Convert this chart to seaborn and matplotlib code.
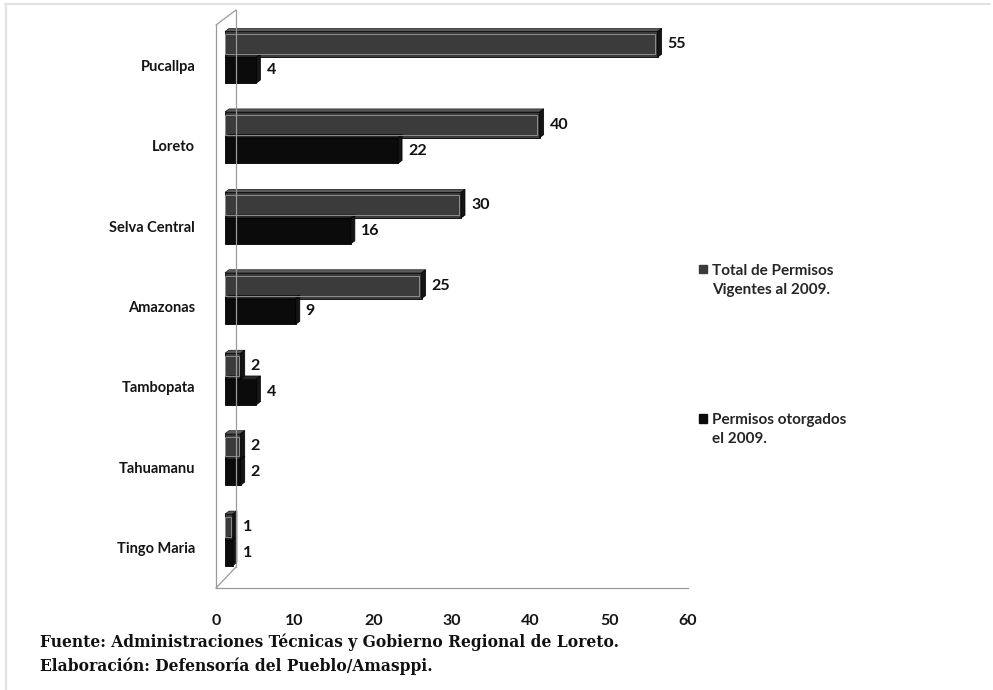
import numpy as np
import pandas as pd
import seaborn as sns
import matplotlib
matplotlib.use("Agg")
import matplotlib.pyplot as plt
from matplotlib.transforms import ScaledTranslation
from matplotlib.patches import Polygon, Rectangle, Patch
from matplotlib.lines import Line2D
from matplotlib.legend_handler import HandlerPatch

# ---------------- data ----------------
categories = ["Pucallpa", "Loreto", "Selva Central", "Amazonas",
              "Tambopata", "Tahuamanu", "Tingo Maria"]
total_vigentes = [55, 40, 30, 25, 2, 2, 1]
otorgados_2009 = [4, 22, 16, 9, 4, 2, 1]
series_names = ["Total de Permisos\nVigentes al 2009.", "Permisos otorgados\nel 2009."]
x_ticks = [0, 10, 20, 30, 40, 50, 60]
source_lines = ["Fuente: Administraciones Técnicas y Gobierno Regional de Loreto.",
                "Elaboración: Defensoría del Pueblo/Amasppi."]

df = pd.DataFrame({
    "Zona": categories * 2,
    "Valor": total_vigentes + otorgados_2009,
    "Serie": [series_names[0]] * len(categories) + [series_names[1]] * len(categories),
})

colors = ["#3b3b3b", "#0b0b0b"]

sns.set_theme(style="white")
fam = ["Lato", "DejaVu Sans"]
plt.rcParams["font.family"] = fam

W, H, DPI = 9.93, 6.90, 100
fig = plt.figure(figsize=(W, H), dpi=DPI)
fig.patch.set_facecolor("white")

# axes in pixel geometry (front plane of the 3D box)
L, R, T, B = 216, 688, 25, 588
ax = fig.add_axes([L / 993, (690 - B) / 690, (R - L) / 993, (B - T) / 690])
ax.set_facecolor("none")

sns.barplot(data=df, y="Zona", x="Valor", hue="Serie", orient="h",
            palette=colors, width=0.64, edgecolor="black", linewidth=0.6,
            saturation=1, legend=False, ax=ax, zorder=3)

ax.set_xlim(0, 60)
ax.set_ylim(len(categories) - 0.5, -0.5)
ax.set_xticks(x_ticks)
ax.set_xlabel("")
ax.set_ylabel("")

# depth offsets (pixels)
bar_dx, bar_dy = 9, 8
off = ScaledTranslation(bar_dx / DPI, bar_dy / DPI, fig.dpi_scale_trans)
btrans = ax.transData + off

px_x = (R - L) / 60.0
px_y = (B - T) / len(categories)
cap_dx, cap_dy = 4 / px_x, 3 / px_y

for p in list(ax.patches):
    p.set_transform(btrans)

series_vals = [total_vigentes, otorgados_2009]
n = len(categories)
lt = ax.transData + ScaledTranslation((bar_dx + 4 + 6) / DPI, bar_dy / DPI, fig.dpi_scale_trans)
for si, cont in enumerate(ax.containers):
    for ci, p in enumerate(cont.patches):
        w = p.get_width()
        yt = p.get_y()
        yb = yt + p.get_height()
        cap = Polygon([(w, yt), (w + cap_dx, yt - cap_dy), (w + cap_dx, yb - cap_dy), (w, yb)],
                      closed=True, facecolor="#151515", edgecolor="black", lw=0.5,
                      transform=btrans, zorder=3.5)
        ax.add_patch(cap)
        top = Polygon([(0, yt), (cap_dx, yt - cap_dy), (w + cap_dx, yt - cap_dy), (w, yt)],
                      closed=True, facecolor="#5a5a5a" if si == 0 else "#2a2a2a",
                      edgecolor="black", lw=0.4, transform=btrans, zorder=3.4)
        ax.add_patch(top)
        if si == 0:
            ins_x = 2.2 / px_x
            ins_y = 3 / px_y
            hl = Rectangle((0, yt + ins_y), max(w - ins_x, 0.05), p.get_height() - 2 * ins_y,
                           fill=False, edgecolor="#8e8e8e", lw=0.7, transform=btrans, zorder=3.6)
            ax.add_patch(hl)
        val = series_vals[si][ci]
        ax.text(w, (yt + yb) / 2, f"{val}", transform=lt, ha="left", va="center",
                fontsize=11.5, fontweight="bold", color="#111111", family=fam, zorder=5)

# spines / axes styling
for s in ["top", "right"]:
    ax.spines[s].set_visible(False)
for s in ["left", "bottom"]:
    ax.spines[s].set_color("#9a9a9a")
    ax.spines[s].set_linewidth(0.9)

ax.tick_params(axis="y", which="major", length=0, pad=15, labelsize=10.5,
               labelcolor="#151515")
ax.set_yticks(np.arange(-0.5, n, 1), minor=True)
ax.tick_params(axis="y", which="minor", length=4, width=0.8, color="#9a9a9a", direction="out")
ax.tick_params(axis="x", which="major", length=3, width=0.8, color="#b0b0b0",
               direction="in", pad=19, labelsize=11.5, labelcolor="#151515")
for lab in ax.get_xticklabels():
    lab.set_fontweight("bold")
for lab in ax.get_yticklabels():
    lab.set_fontweight("bold")

# 3D box: back wall line and connecting diagonals
wall_dx, wall_top_dy, wall_bot_dy = 20, 15, 21
bx_bot = ax.transAxes.transform((0, 0)) + np.array([wall_dx, wall_bot_dy])
bx_top = ax.transAxes.transform((0, 1)) + np.array([wall_dx, wall_top_dy])
fr_bot = ax.transAxes.transform((0, 0))
fr_top = ax.transAxes.transform((0, 1))
inv = fig.transFigure.inverted()
for a, b in [(bx_bot, bx_top), (fr_top, bx_top), (fr_bot, bx_bot)]:
    pa, pb = inv.transform(a), inv.transform(b)
    fig.add_artist(Line2D([pa[0], pb[0]], [pa[1], pb[1]], transform=fig.transFigure,
                          color="#9a9a9a", lw=0.9, zorder=1))


# legend: marker aligned with the first text line
def top_square(legend, orig_handle, xdescent, ydescent, width, height, fontsize):
    return Rectangle((-xdescent, -ydescent + 0.75 * fontsize), width, height)


handles = [Patch(facecolor=colors[0], edgecolor=colors[0]),
           Patch(facecolor=colors[1], edgecolor=colors[1])]
leg = fig.legend(handles, series_names, loc="upper left",
                 bbox_to_anchor=(699 / 993, 1 - 264 / 690), bbox_transform=fig.transFigure,
                 frameon=False, handlelength=0.5, handleheight=0.5, handletextpad=0.35,
                 borderpad=0, borderaxespad=0, labelspacing=7.6,
                 prop={"family": fam, "size": 11, "weight": "bold"},
                 handler_map={Patch: HandlerPatch(patch_func=top_square)})
for t in leg.get_texts():
    t.set_linespacing(1.45)

# source text
fig.text(40 / 993, 1 - 642 / 690, source_lines[0], ha="left", va="center",
         family="DejaVu Serif", fontweight="bold", fontsize=11.2, color="#111111")
fig.text(40 / 993, 1 - 666 / 690, source_lines[1], ha="left", va="center",
         family="DejaVu Serif", fontweight="bold", fontsize=11.2, color="#111111")

# faint page frame (top and left)
fig.add_artist(Line2D([5 / 993, 990 / 993], [1 - 4 / 690, 1 - 4 / 690],
                      transform=fig.transFigure, color="#e2e2e2", lw=1.5))
fig.add_artist(Line2D([6 / 993, 6 / 993], [1 - 4 / 690, 0], transform=fig.transFigure,
                      color="#e2e2e2", lw=1.5))

fig.savefig("out.png", dpi=DPI, facecolor="white")
